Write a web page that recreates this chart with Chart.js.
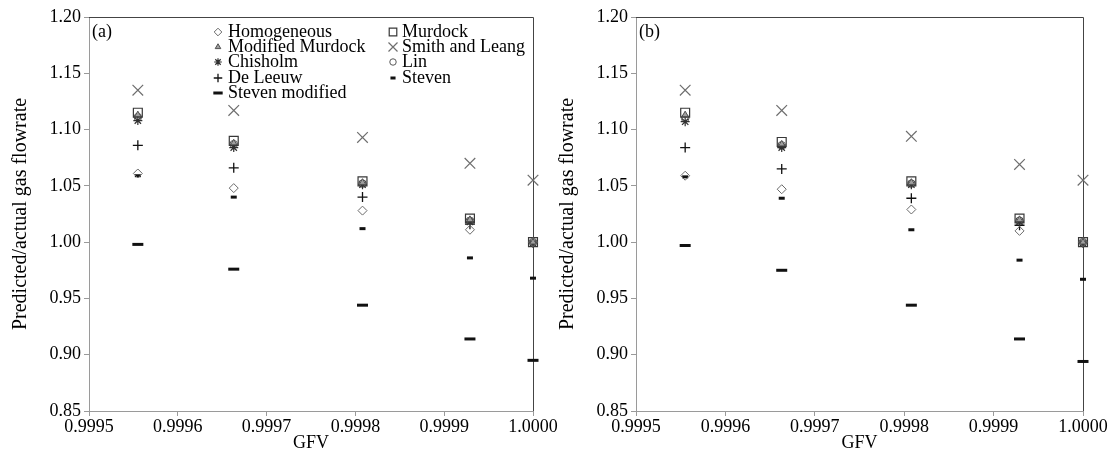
<!DOCTYPE html>
<html><head><meta charset="utf-8">
<script src="https://cdn.jsdelivr.net/npm/chart.js@4.4.1/dist/chart.umd.min.js"></script>
<style>
html,body{margin:0;padding:0;background:#fff;}
#wrap{position:relative;width:1112px;height:466px;overflow:hidden;background:#fff;}
.panel{position:absolute;top:0;height:466px;}
#pa{left:0;width:560px;}
#pb{left:547px;width:565px;}
</style></head><body>
<div id="wrap">
  <div class="panel" id="pa"><canvas id="ca" width="560" height="466"></canvas></div>
  <div class="panel" id="pb"><canvas id="cb" width="565" height="466"></canvas></div>
</div>
<script>
// ---- data ----
const GFV = [0.999555, 0.999663, 0.999808, 0.999929, 1.0000];
const X_TICKS = [0.9995, 0.9996, 0.9997, 0.9998, 0.9999, 1.0000];
const Y_TICKS = [0.85, 0.90, 0.95, 1.00, 1.05, 1.10, 1.15, 1.20];
const SERIES_NAMES = ['Homogeneous', 'Murdock', 'Modified Murdock', 'Smith and Leang', 'Chisholm', 'Lin', 'De Leeuw', 'Steven', 'Steven modified'];

// panel (a)
const A_HOMOGENEOUS   = [1.061, 1.048, 1.028, 1.011, 1.000];
const A_MURDOCK       = [1.115, 1.090, 1.054, 1.021, 1.000];
const A_MOD_MURDOCK   = [1.113, 1.088, 1.053, 1.020, 1.000];
const A_SMITH_LEANG   = [1.135, 1.117, 1.093, 1.070, 1.055];
const A_CHISHOLM      = [1.108, 1.084, 1.051, 1.018, 0.999];
const A_LIN           = [1.111, 1.087, 1.052, 1.019, 1.000];
const A_DE_LEEUW      = [1.086, 1.066, 1.040, 1.016, 1.000];
const A_STEVEN        = [1.059, 1.040, 1.012, 0.986, 0.968];
const A_STEVEN_MOD    = [0.998, 0.976, 0.944, 0.914, 0.895];

// panel (b)
const B_HOMOGENEOUS   = [1.059, 1.047, 1.029, 1.010, 1.000];
const B_MURDOCK       = [1.115, 1.089, 1.054, 1.021, 1.000];
const B_MOD_MURDOCK   = [1.113, 1.087, 1.053, 1.020, 1.000];
const B_SMITH_LEANG   = [1.135, 1.117, 1.094, 1.069, 1.055];
const B_CHISHOLM      = [1.107, 1.084, 1.051, 1.018, 0.999];
const B_LIN           = [1.110, 1.086, 1.052, 1.019, 1.000];
const B_DE_LEEUW      = [1.084, 1.065, 1.039, 1.015, 1.000];
const B_STEVEN        = [1.058, 1.039, 1.011, 0.984, 0.967];
const B_STEVEN_MOD    = [0.997, 0.975, 0.944, 0.914, 0.894];

const A_VALUES = [A_HOMOGENEOUS, A_MURDOCK, A_MOD_MURDOCK, A_SMITH_LEANG, A_CHISHOLM, A_LIN, A_DE_LEEUW, A_STEVEN, A_STEVEN_MOD];
const B_VALUES = [B_HOMOGENEOUS, B_MURDOCK, B_MOD_MURDOCK, B_SMITH_LEANG, B_CHISHOLM, B_LIN, B_DE_LEEUW, B_STEVEN, B_STEVEN_MOD];

// ---- styles ----
const FONT_FAMILY = '"Liberation Serif", "Times New Roman", "DejaVu Serif", serif';
const STYLES = [
  {style:'rectRot',  r:4.5, bw:1.0, color:'#6a6a6a', fill:'rgba(0,0,0,0)'},
  {style:'rect',     r:6.3, bw:1.2, color:'#383838', fill:'rgba(0,0,0,0)'},
  {style:'triangle', r:3.8, bw:1.0, color:'#505050', fill:'#a0a0a0'},
  {style:'crossRot', r:7.5, bw:1.2, color:'#6e6e6e', fill:'rgba(0,0,0,0)'},
  {style:'star',     r:4.5, bw:1.2, color:'#303030', fill:'rgba(0,0,0,0)'},
  {style:'circle',   r:3.8, bw:1.0, color:'#585858', fill:'rgba(0,0,0,0)'},
  {style:'cross',    r:5.0, bw:1.3, color:'#111111', fill:'rgba(0,0,0,0)'},
  {style:'line',     r:3.0, bw:3.0, color:'#111111', fill:'rgba(0,0,0,0)'},
  {style:'line',     r:5.5, bw:3.0, color:'#111111', fill:'rgba(0,0,0,0)'}
];
// legend layout: [series index, column, row]
const LEGEND_ITEMS = [[0,0,0],[1,1,0],[2,0,1],[3,1,1],[4,0,2],[5,1,2],[6,0,3],[7,1,3],[8,0,4]];

const framePlugin = {
  id: 'frame',
  beforeDatasetsDraw(chart) {
    const {ctx, chartArea: a} = chart;
    ctx.save();
    ctx.strokeStyle = '#444';
    ctx.lineWidth = 1;
    ctx.beginPath();
    ctx.moveTo(a.left, a.top + 0.5);
    ctx.lineTo(a.right + 0.5, a.top + 0.5);
    ctx.lineTo(a.right + 0.5, a.bottom);
    ctx.stroke();
    ctx.restore();
  },
  afterDatasetsDraw(chart, args, opts) {
    const {ctx, chartArea: a} = chart;
    ctx.save();
    ctx.fillStyle = '#000';
    ctx.font = '18px ' + FONT_FAMILY;
    ctx.textBaseline = 'middle';
    ctx.textAlign = 'left';
    ctx.fillText(opts.label, a.left + 3, a.top + 15);
    if (opts.legend) {
      const colMarker = [a.left + 129, a.left + 304];
      const colText = [a.left + 139, a.left + 313];
      const rowY = [a.top + 15, a.top + 30, a.top + 45, a.top + 61, a.top + 76];
      LEGEND_ITEMS.forEach(([si, c, r]) => {
        const st = STYLES[si];
        ctx.save();
        ctx.strokeStyle = st.color;
        ctx.fillStyle = st.fill;
        ctx.lineWidth = st.bw;
        Chart.helpers.drawPoint(ctx, {pointStyle: st.style, radius: st.r * 0.85, rotation: 0, borderWidth: st.bw}, colMarker[c], rowY[r]);
        ctx.restore();
        ctx.fillStyle = '#000';
        ctx.fillText(SERIES_NAMES[si], colText[c], rowY[r]);
      });
    }
    ctx.restore();
  }
};

function makeChart(canvasId, values, label, legend, yAxisWidth, rightPad) {
  const font = {family: FONT_FAMILY, size: 18};
  const titleFontY = {family: FONT_FAMILY, size: 20};
  const datasets = values.map((vals, i) => ({
    label: SERIES_NAMES[i],
    data: GFV.map((x, j) => ({x: x, y: vals[j]})),
    showLine: false,
    clip: false,
    pointStyle: STYLES[i].style,
    pointRadius: STYLES[i].r,
    pointHoverRadius: STYLES[i].r,
    pointBorderWidth: STYLES[i].bw,
    pointBorderColor: STYLES[i].color,
    pointBackgroundColor: STYLES[i].fill
  }));
  return new Chart(document.getElementById(canvasId), {
    type: 'scatter',
    data: {datasets},
    plugins: [framePlugin],
    options: {
      responsive: false,
      animation: false,
      events: [],
      layout: {padding: {top: 17, right: rightPad, bottom: 0, left: 0}},
      plugins: {
        legend: {display: false},
        tooltip: {enabled: false},
        frame: {label: label, legend: legend}
      },
      scales: {
        x: {
          type: 'linear', min: 0.9995, max: 1.0,
          afterBuildTicks: s => { s.ticks = X_TICKS.map(v => ({value: v})); },
          afterFit: s => { s.height = 55; },
          ticks: {callback: v => Number(v).toFixed(4), font, color: '#000', padding: 0, maxRotation: 0, autoSkip: false},
          grid: {drawOnChartArea: false, drawTicks: true, tickLength: 5, color: '#9a9a9a'},
          border: {color: '#9a9a9a', width: 1},
          title: {display: true, text: 'GFV', font, color: '#000', padding: {top: 0, bottom: 12}}
        },
        y: {
          type: 'linear', min: 0.85, max: 1.20,
          afterBuildTicks: s => { s.ticks = Y_TICKS.map(v => ({value: v})); },
          afterFit: s => { s.width = yAxisWidth; },
          ticks: {callback: v => Number(v).toFixed(2), font, color: '#000', padding: 3},
          grid: {drawOnChartArea: false, drawTicks: true, tickLength: 5, color: '#9a9a9a'},
          border: {color: '#9a9a9a', width: 1},
          title: {display: true, text: 'Predicted/actual gas flowrate', font: titleFontY, color: '#000', padding: {top: 9, bottom: 0}}
        }
      }
    }
  });
}

makeChart('ca', A_VALUES, '(a)', true, 89, 27);
makeChart('cb', B_VALUES, '(b)', false, 89, 29);
</script>
</body></html>
